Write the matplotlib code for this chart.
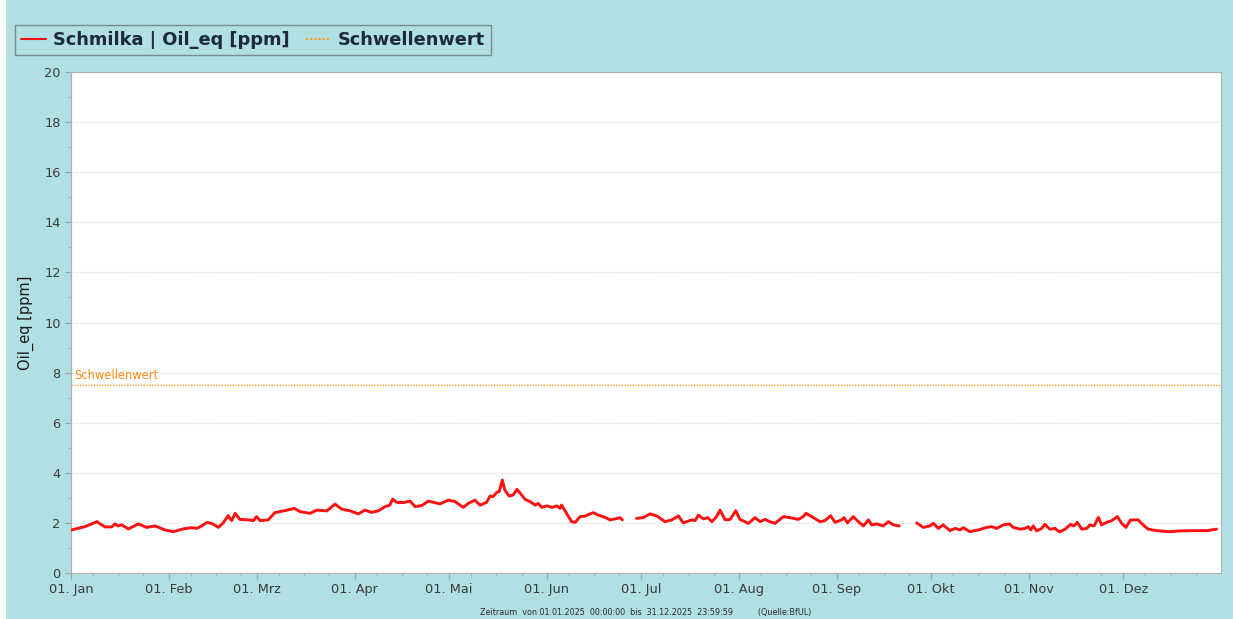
import numpy as np
import pandas as pd
import matplotlib

matplotlib.use("Agg")
import matplotlib.pyplot as plt
from matplotlib.patches import Rectangle

# days since 01.01.2025 and Oil_eq values [ppm]; NaN marks data gaps
days = [
    0.2, 4.4, 8.2, 10.8, 12.9, 14.0, 14.9, 16.1, 18.2, 21.4, 24.0, 26.7, 29.8,
    32.5, 35.6, 38.3, 39.9, 41.5, 43.1, 44.7, 46.8, 48.3, 49.9, 51.0, 52.1,
    53.6, 56.3, 57.9, 58.9, 60.0, 62.6, 64.7, 67.9, 70.9, 72.7, 75.9, 78.0,
    81.2, 83.8, 85.9, 88.6, 91.2, 93.3, 95.4, 97.5, 99.7, 101.2, 102.1, 103.4,
    105.5, 107.6, 109.2, 111.3, 113.4, 115.5, 117.1, 119.8, 121.9, 124.5,
    126.1, 128.2, 129.8, 131.9, 133.0, 134.0, 135.1, 135.9, 136.9, 137.7,
    139.1, 140.4, 141.5, 142.5, 144.1, 145.7, 147.3, 148.3, 149.4, 151.0,
    152.6, 154.2, 155.2, 155.7, 157.3, 158.9, 160.0, 161.6, 163.1, 165.8,
    167.4, 169.5, 171.1, 172.7, 174.2, 175.0,
    177.0,
    179.5, 181.6, 183.8, 185.9, 188.5, 190.7, 192.8, 194.3, 197.0, 198.1,
    199.1, 200.7, 202.1, 203.4, 204.9, 206.0, 207.6, 209.2, 211.0, 212.3,
    213.9, 215.0, 217.1, 218.7, 220.3, 221.8, 223.4, 226.1, 228.2, 230.8,
    232.4, 233.3, 235.1, 237.7, 239.3, 241.1, 242.5, 244.6, 245.4, 246.4,
    248.3, 249.9, 251.5, 253.1, 254.1, 255.7, 257.8, 259.4, 261.0, 262.9,
    265.5,
    268.4, 270.5, 272.6, 273.7, 275.3, 276.8, 279.0, 280.6, 282.2, 283.2,
    285.3, 288.0, 290.6, 292.2, 293.8, 295.9, 297.8, 299.1, 301.2, 302.8,
    303.8, 304.6, 305.4, 306.5, 308.1, 309.1, 310.7, 312.3, 313.7, 315.5,
    317.3, 318.3, 319.4, 320.8, 322.4, 323.4, 324.7, 326.1, 327.1, 328.7,
    330.3, 332.1, 333.5, 334.8, 336.3, 338.7, 340.3, 341.9, 344.6, 348.8,
    352.0, 356.2, 360.4, 363.6,
]
oil_eq = [
    1.72, 1.85, 2.05, 1.84, 1.84, 1.96, 1.88, 1.92, 1.76, 1.96, 1.82, 1.88, 1.72,
    1.65, 1.76, 1.81, 1.78, 1.88, 2.02, 1.98, 1.82, 2.00, 2.29, 2.09, 2.38,
    2.14, 2.12, 2.09, 2.25, 2.09, 2.12, 2.41, 2.49, 2.58, 2.45, 2.38, 2.51,
    2.48, 2.75, 2.55, 2.48, 2.36, 2.51, 2.42, 2.48, 2.65, 2.71, 2.95, 2.82,
    2.81, 2.87, 2.65, 2.69, 2.87, 2.81, 2.76, 2.91, 2.85, 2.62,
    2.78, 2.91, 2.71, 2.82, 3.07, 3.05, 3.22, 3.25, 3.71, 3.31,
    3.07, 3.12, 3.34, 3.20, 2.94, 2.85, 2.71, 2.78, 2.62, 2.68,
    2.62, 2.68, 2.58, 2.71, 2.38, 2.05, 2.02, 2.25, 2.27, 2.41,
    2.31, 2.22, 2.12, 2.16, 2.21, 2.12,
    np.nan,
    2.18, 2.21, 2.36, 2.28, 2.05, 2.12, 2.28, 2.00, 2.12, 2.09,
    2.31, 2.16, 2.21, 2.05, 2.25, 2.51, 2.12, 2.14, 2.49, 2.14,
    2.05, 1.98, 2.21, 2.05, 2.14, 2.05, 1.98, 2.25, 2.21, 2.14,
    2.25, 2.38, 2.25, 2.05, 2.09, 2.29, 2.02, 2.12, 2.21, 2.00,
    2.25, 2.05, 1.88, 2.12, 1.92, 1.96, 1.88, 2.05, 1.92, 1.88,
    np.nan,
    2.00, 1.82, 1.88, 1.98, 1.78, 1.92, 1.69, 1.78, 1.72, 1.81,
    1.65, 1.72, 1.82, 1.85, 1.78, 1.92, 1.96, 1.82, 1.75, 1.78,
    1.85, 1.72, 1.88, 1.68, 1.78, 1.94, 1.75, 1.78, 1.64, 1.75,
    1.94, 1.88, 2.02, 1.75, 1.78, 1.92, 1.88, 2.22, 1.92, 2.02,
    2.09, 2.25, 1.98, 1.82, 2.12, 2.12, 1.92, 1.75, 1.69, 1.65,
    1.68, 1.69, 1.69, 1.75,
]
threshold = 7.5
month_labels = ["Jan", "Feb", "Mrz", "Apr", "Mai", "Jun",
                "Jul", "Aug", "Sep", "Okt", "Nov", "Dez"]

bg = "#b0dfe4"
txt = "#3a3a3a"
start = pd.Timestamp("2025-01-01")
t = start + pd.to_timedelta(days, unit="D")

fig = plt.figure(figsize=(12.33, 6.19), dpi=100, facecolor=bg)
fig.patches.append(Rectangle((0, 0), 6 / 1233, 1, transform=fig.transFigure,
                             facecolor="white", edgecolor="none", zorder=-1))
ax = fig.add_axes([71 / 1233, 1 - 573 / 619, 1150 / 1233, 501 / 619])
ax.set_facecolor("white")

line, = ax.plot(t, oil_eq, color="#ff1010", lw=2.1, solid_joinstyle="round",
                solid_capstyle="round", label="Schmilka | Oil_eq [ppm]",
                zorder=3)
thr = ax.axhline(threshold, color="#ff9a1a", lw=1.0, ls=(0, (1, 1)),
                 label="Schwellenwert", zorder=2)
ax.text(start + pd.Timedelta(days=1), threshold + 0.12, "Schwellenwert",
        color="#ff8a10", fontsize=8.3, va="bottom", ha="left")

ax.set_ylim(0, 20)
ax.set_xlim(start, pd.Timestamp("2026-01-01"))
ax.set_yticks(np.arange(0, 21, 2))
ax.set_yticks(np.arange(1, 20, 2), minor=True)
ax.grid(axis="y", which="major", color="#d8d8d8", ls=(0, (1, 1.5)), lw=0.8)

month_ticks = pd.date_range("2025-01-01", periods=12, freq="MS")
ax.set_xticks(month_ticks)
ax.set_xticklabels([f"01. {m}" for m in month_labels])
minor = [m + pd.Timedelta(days=d) for m in month_ticks for d in (7, 15, 23)]
ax.set_xticks(minor, minor=True)

ax.tick_params(axis="both", which="both", color="#a0a0a0", labelcolor=txt,
               labelsize=9.3)
ax.tick_params(axis="both", which="major", length=4)
ax.tick_params(axis="both", which="minor", length=2.5)
ax.tick_params(axis="x", which="major", pad=3)
for s in ax.spines.values():
    s.set_color("#b0b0b0")
    s.set_linewidth(0.8)

ax.set_ylabel("Oil_eq [ppm]", fontsize=10.5, color="#1a1a1a", labelpad=7)

fig.text(646 / 1233, 1 - 612 / 619, "Zeitraum  von 01.01.2025  00:00:00  bis  "
         "31.12.2025  23:59:59          (Quelle:BfUL)",
         fontsize=5.8, color="#2a2a2a", ha="center", va="center")

leg = fig.legend(handles=[line, thr], loc="upper left", ncol=2,
                 bbox_to_anchor=(15 / 1233, 1 - 25 / 619), borderaxespad=0,
                 prop={"weight": "bold", "size": 12.8}, labelcolor="#1c2a3a",
                 facecolor=bg, edgecolor="#7a8a90", fancybox=False,
                 handlelength=1.4, handletextpad=0.4, columnspacing=0.9,
                 borderpad=0.35, framealpha=1)
leg.get_frame().set_linewidth(1.0)
for h in leg.legend_handles:
    h.set_linewidth(1.5)

fig.savefig("out.png", dpi=100, facecolor=bg)
